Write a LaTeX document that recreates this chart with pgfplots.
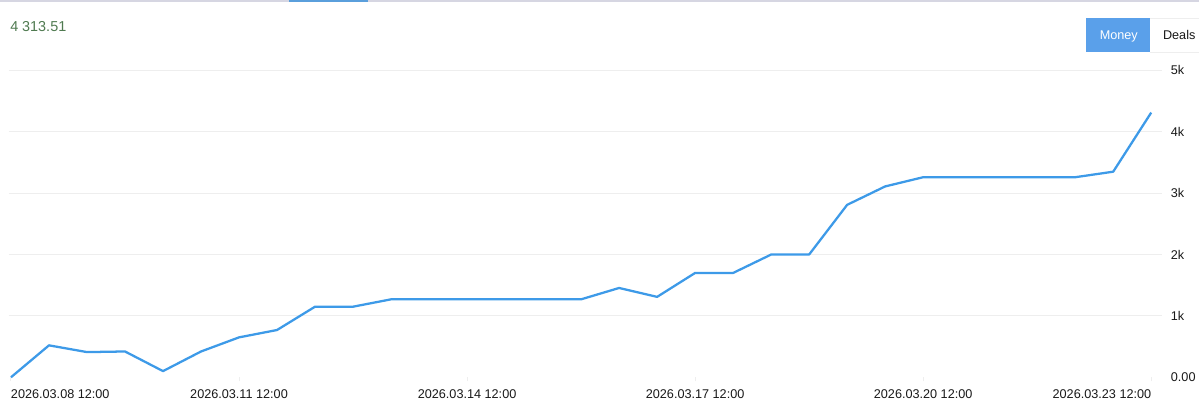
\documentclass[border=0pt]{standalone}
\usepackage{fontspec}
\setmainfont{Liberation Sans}
\usepackage{pgfplots}
\pgfplotsset{compat=1.18}
\definecolor{linec}{HTML}{3D9AE8}
\definecolor{gridc}{HTML}{EEEEEE}
\definecolor{btn}{HTML}{5AA0EA}
\definecolor{valc}{HTML}{4F7A50}
\definecolor{topc}{HTML}{D6D6E2}
\definecolor{topb}{HTML}{5A9FDC}
\begin{document}
\begin{tikzpicture}[x=0.75pt,y=-0.75pt]
\path[fill=white] (0,0) rectangle (1200,418);
\fill[topc] (0,0) rectangle (1200,1.6);
\fill[topb] (289,0) rectangle (368,1.6);
\node[anchor=west,inner sep=0pt,text=valc,font=\fontsize{10.8pt}{12pt}\selectfont] at (10,27) {4 313.51};
\fill[btn] (1087,18) rectangle (1151,52);
\draw[gridc,line width=0.5pt] (1151,18) -- (1200,18) (1151,52) -- (1200,52);
\node[anchor=base,text=white,inner sep=0pt,font=\fontsize{9.5pt}{12pt}\selectfont] at (1119.5,39.5) {Money};
\node[anchor=base,text=black!90,inner sep=0pt,font=\fontsize{9.5pt}{12pt}\selectfont] at (1180,39.5) {Deals};
\coordinate (A) at (9,377.5);
\begin{axis}[
  at={(A)},anchor=south west,
  scale only axis,width=865.5pt,height=230.25pt,
  xmin=-0.0526,xmax=30.29,ymin=0,ymax=5000,
  clip=false,
  axis line style={draw=none},
  ymajorgrids,
  grid style={gridc,line width=0.75pt},
  ytick={1000,2000,3000,4000,5000},
  yticklabels={1k,2k,3k,4k,5k},
  extra y ticks={0},
  extra y tick labels={0.00},
  extra y tick style={grid=none},
  yticklabel pos=right,
  y tick label style={anchor=west,font=\fontsize{9.5pt}{11pt}\selectfont,text=black!90,xshift=0pt},
  ytick style={draw=none},
  xtick={0,6,12,18,24,30},
  xticklabels={\rlap{2026.03.08 12:00},2026.03.11 12:00,2026.03.14 12:00,2026.03.17 12:00,2026.03.20 12:00,\llap{2026.03.23 12:00}},
  x tick label style={anchor=north,font=\fontsize{9.5pt}{11pt}\selectfont,text=black!90},
  xtick style={gridc,line width=0.75pt},
  tick align=outside,
  major tick length=3pt,
  xtick pos=bottom,
  ytick pos=right,
  xticklabel style={yshift=-2.5pt},
]
\addplot[linec,line width=1.7pt,line join=round] coordinates {
(0,0) (1,520) (2,410) (3,420) (4,100) (5,420) (6,650) (7,770) (8,1150) (9,1150)
(10,1270) (11,1270) (12,1270) (13,1270) (14,1270) (15,1270) (16,1455) (17,1310)
(18,1700) (19,1700) (20,2000) (21,2000) (22,2810) (23,3110) (24,3260) (25,3260)
(26,3260) (27,3260) (28,3260) (29,3350) (30,4313.51)};
\end{axis}
\end{tikzpicture}
\end{document}
